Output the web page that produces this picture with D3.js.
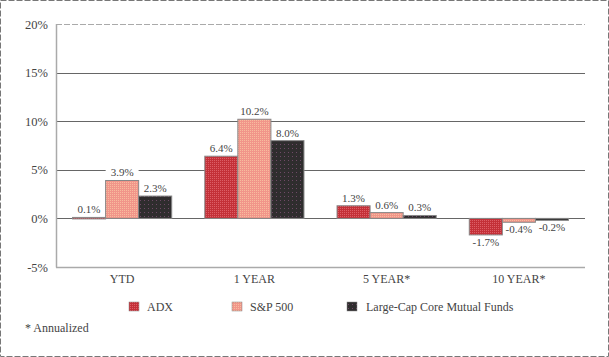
<!DOCTYPE html>
<html><head><meta charset="utf-8">
<script src="https://cdn.jsdelivr.net/npm/d3@7"></script>
<style>body{margin:0;background:#fff}svg{display:block}text{font-family:"Liberation Serif","Times New Roman",serif;fill:#444}</style>
</head><body><svg id="c" width="609" height="357"></svg>
<script>
const categories = ["YTD", "1 YEAR", "5 YEAR*", "10 YEAR*"];
const seriesNames = ["ADX", "S&P 500", "Large-Cap Core Mutual Funds"];
const adx = [0.1, 6.4, 1.3, -1.7];
const sp500 = [3.9, 10.2, 0.6, -0.4];
const largeCap = [2.3, 8.0, 0.3, -0.2];
const yTicks = [-5, 0, 5, 10, 15, 20];
const colors = ["#c43038", "#f1958a", "#2f2d2e"];
const dotColors = ["#dc5e66", "#f7bc9e", "#6e4a66"];
const footnote = "* Annualized";

const svg = d3.select("#c");
const pL = 56, pR = 585, pT = 24, pB = 267;
const x = d3.scaleBand().domain(categories).range([pL, pR]).paddingInner(0.25).paddingOuter(0.125);
const xs = d3.scaleBand().domain(seriesNames).range([0, x.bandwidth()]);
const y = d3.scaleLinear().domain([-5, 20]).range([pB, pT]);

// dither-like patterns
const defs = svg.append("defs");
colors.forEach((c, i) => {
  const size = i === 2 ? 4 : 2;
  const p = defs.append("pattern").attr("id", "pat" + i).attr("patternUnits", "userSpaceOnUse")
    .attr("width", size).attr("height", size);
  p.append("rect").attr("width", size).attr("height", size).attr("fill", c);
  p.append("rect").attr("width", 1).attr("height", 1).attr("fill", dotColors[i]);
});

// outer dashed frame
svg.append("rect").attr("x", 0.5).attr("y", 0.5).attr("width", 608).attr("height", 356)
  .attr("fill", "none").attr("stroke", "#777").attr("stroke-dasharray", "6,2");

// gridlines
const grid = svg.append("g");
yTicks.forEach(t => {
  if (t === -5) return;
  grid.append("line").attr("x1", pL).attr("x2", pR).attr("y1", Math.round(y(t)) + 0.5).attr("y2", Math.round(y(t)) + 0.5)
    .attr("stroke", t === 20 ? "#aaa" : "#666").attr("stroke-dasharray", t === 20 ? "6,2" : null);
});

// label backgrounds layer (above gridlines, below bars)
const labelBg = svg.append("g");

// axes frame (left & bottom)
svg.append("line").attr("x1", pL + 0.5).attr("x2", pL + 0.5).attr("y1", pT).attr("y2", pB + 0.5).attr("stroke", "#aaa").attr("stroke-width", 1.5);
svg.append("line").attr("x1", pL).attr("x2", pR).attr("y1", pB + 0.5).attr("y2", pB + 0.5).attr("stroke", "#aaa").attr("stroke-width", 1.5);

const yAxis = d3.axisLeft(y).tickValues(yTicks).tickSize(0).tickPadding(4).tickFormat(d => d + "%");
const ya = svg.append("g").attr("transform", `translate(${pL - 4},0)`).call(yAxis);
ya.select(".domain").remove();
ya.selectAll("text").style("font-size", "12.5px").attr("fill", "#555").attr("font-family", '"Liberation Serif",serif');

const xAxis = d3.axisBottom(x).tickSize(0).tickPadding(0);
const xa = svg.append("g").attr("transform", `translate(0,${pB + 7})`).call(xAxis);
xa.select(".domain").remove();
xa.selectAll("text").style("font-size", "12px").attr("fill", "#444").attr("font-family", '"Liberation Serif",serif').attr("dy", "0.71em");

const data = [adx, sp500, largeCap];
const bars = svg.append("g");
const labels = svg.append("g");
seriesNames.forEach((s, si) => {
  categories.forEach((c, ci) => {
    const v = data[si][ci];
    const x0 = x(c) + xs(s);
    const y0 = y(Math.max(0, v)), y1 = y(Math.min(0, v));
    bars.append("rect").attr("x", x0).attr("y", y0).attr("width", xs.bandwidth()).attr("height", Math.max(1.5, y1 - y0))
      .attr("fill", `url(#pat${si})`).attr("stroke", "#888").attr("stroke-width", 1);
    const t = labels.append("text").attr("x", x0 + xs.bandwidth() / 2).attr("y", v >= 0 ? y0 - 4 : y1 + 11)
      .attr("text-anchor", "middle").style("font-size", "11px").text(v.toFixed(1) + "%");
    const bb = t.node().getBBox();
    labelBg.append("rect").attr("x", bb.x - 5).attr("y", bb.y).attr("width", bb.width + 10).attr("height", bb.height - 1)
      .attr("fill", "#fff");
  });
});

// legend
const legX = [129, 232, 347];
seriesNames.forEach((s, i) => {
  svg.append("rect").attr("x", legX[i]).attr("y", 302).attr("width", 10).attr("height", 9).attr("fill", `url(#pat${i})`).attr("stroke", "#888").attr("stroke-width", 0.5);
  svg.append("text").attr("x", legX[i] + (i === 2 ? 19 : 18)).attr("y", 311).style("font-size", "12px").text(s);
});
svg.append("text").attr("x", 25).attr("y", 332).style("font-size", "12px").text(footnote);
</script></body></html>
